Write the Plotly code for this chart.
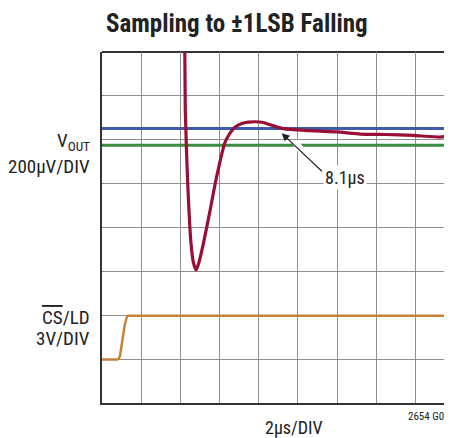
import plotly.graph_objects as go

# ---- data (x in µs, 2 µs/DIV; y in screen divisions) ----
vout_t = [4.22, 4.25, 4.36, 4.54, 4.66, 4.80, 4.94, 5.18, 5.52, 5.78, 6.04, 6.26, 6.46,
          6.80, 7.14, 7.46, 7.82, 8.18, 8.58, 9.18, 9.76, 10.88, 11.98, 13.18, 14.46,
          15.88, 17.26, 17.90]
vout_v = [8.27, 6.67, 5.16, 3.65, 3.21, 3.03, 3.19, 3.65, 4.40, 5.01, 5.54, 5.92, 6.10,
          6.29, 6.37, 6.40, 6.41, 6.40, 6.34, 6.26, 6.23, 6.20, 6.18, 6.13, 6.12,
          6.10, 6.06, 6.10]
cs_t = [0.0, 0.78, 0.86, 0.92, 0.98, 1.06, 1.16, 1.26, 1.32, 1.40, 17.90]
cs_v = [0.99, 0.99, 1.01, 1.08, 1.25, 1.50, 1.78, 1.95, 1.99, 1.99, 1.99]
band_upper = 6.257
band_lower = 5.877
x_end = 17.86

FONT = "Liberation Sans Narrow, Roboto Condensed, Arial Narrow, Liberation Sans, sans-serif"

fig = go.Figure()
fig.add_trace(go.Scatter(x=[0, x_end], y=[band_upper, band_upper], mode="lines",
                         line=dict(color="#3f5ba9", width=3), hoverinfo="skip"))
fig.add_trace(go.Scatter(x=[0, x_end], y=[band_lower, band_lower], mode="lines",
                         line=dict(color="#3b8c43", width=3), hoverinfo="skip"))
fig.add_trace(go.Scatter(x=cs_t, y=cs_v, mode="lines",
                         line=dict(color="#c9823a", width=2.5), hoverinfo="skip"))
fig.add_trace(go.Scatter(x=vout_t, y=vout_v, mode="lines",
                         line=dict(color="#9a0f35", width=3.2, shape="spline", smoothing=0.5),
                         hoverinfo="skip"))

# white backing for the arrow
fig.add_shape(type="line", x0=9.85, y0=5.95, x1=11.2, y1=5.15, xref="x", yref="y",
              line=dict(color="white", width=7), layer="above")

fig.add_annotation(x=9.17, y=6.15, ax=11.3, ay=5.25, xref="x", yref="y", axref="x", ayref="y",
                   showarrow=True, arrowhead=2, arrowsize=1.3, arrowwidth=1.2, arrowcolor="#222",
                   text="", standoff=0)
fig.add_annotation(x=12.4, y=5.13, xref="x", yref="y", text="8.1µs", showarrow=False,
                   font=dict(family=FONT, size=18, color="#222"), bgcolor="white",
                   borderpad=1)

# left labels
fig.add_annotation(x=-0.03, y=5.97, xref="paper", yref="y", xanchor="right", yanchor="middle",
                   text="V<sub>OUT</sub>", showarrow=False, font=dict(family=FONT, size=19, color="#222"))
fig.add_annotation(x=-0.03, y=5.40, xref="paper", yref="y", xanchor="right", yanchor="middle",
                   text="200µV/DIV", showarrow=False, font=dict(family=FONT, size=19, color="#222"))
fig.add_annotation(x=-0.03, y=1.95, xref="paper", yref="y", xanchor="right", yanchor="middle",
                   text="<span style='text-decoration:overline'>CS</span>/LD", showarrow=False,
                   font=dict(family=FONT, size=19, color="#222"))
fig.add_annotation(x=-0.03, y=1.48, xref="paper", yref="y", xanchor="right", yanchor="middle",
                   text="3V/DIV", showarrow=False, font=dict(family=FONT, size=19, color="#222"))

# bottom labels
fig.add_annotation(x=0.549, y=-0.07, xref="paper", yref="paper", xanchor="center", yanchor="middle",
                   text="2µs/DIV", showarrow=False, font=dict(family=FONT, size=18, color="#222"))
fig.add_annotation(x=0.868, y=-0.0375, xref="paper", yref="paper", xanchor="left", yanchor="middle",
                   text="2654 G07", showarrow=False, font=dict(family=FONT, size=11, color="#222"))

# title
fig.add_annotation(x=0.385, y=1.124, xref="paper", yref="paper", xanchor="center", yanchor="top",
                   text="<b>Sampling to ±1LSB Falling</b>", showarrow=False, borderpad=0,
                   font=dict(family=FONT, size=25, color="#222"))

fig.update_layout(
    width=444, height=430, margin=dict(l=94, r=0, t=44, b=35),
    paper_bgcolor="white", plot_bgcolor="white", showlegend=False,
    xaxis=dict(range=[0, x_end], tick0=0, dtick=2, showgrid=True, gridcolor="#8f8f8f", gridwidth=1.3,
               showticklabels=False, ticks="", zeroline=False, showline=True, linecolor="#333",
               linewidth=1.8, mirror=False, fixedrange=True),
    yaxis=dict(range=[0, 8], tick0=0, dtick=1, showgrid=True, gridcolor="#8f8f8f", gridwidth=1.3,
               showticklabels=False, ticks="", zeroline=False, showline=True, linecolor="#333",
               linewidth=1.8, fixedrange=True),
)
# top border
fig.add_shape(type="line", x0=0, x1=1, y0=1, y1=1, xref="paper", yref="paper",
              line=dict(color="#333", width=1.8), layer="below")

fig.write_html("out.html")
